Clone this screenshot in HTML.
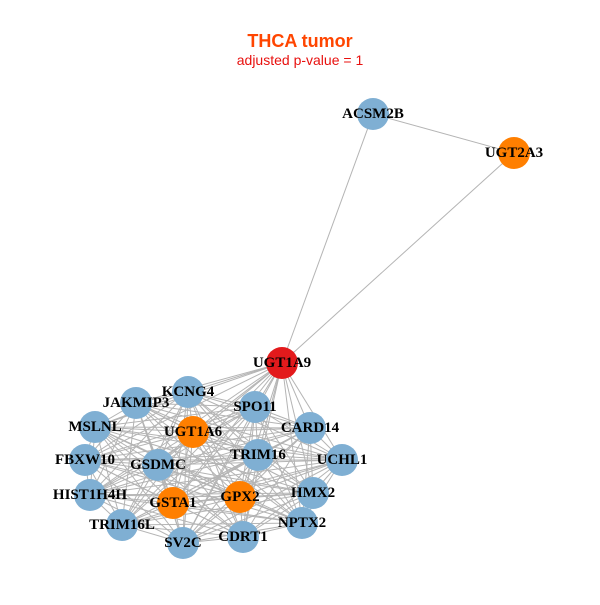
<!DOCTYPE html>
<html><head><meta charset="utf-8"><style>
body{margin:0;background:#fff;width:600px;height:600px;overflow:hidden}
svg text.l{font-family:"Liberation Serif",serif;font-weight:bold;font-size:15px;text-anchor:middle;dominant-baseline:central;fill:#000}
</style></head><body>
<svg id="s" width="600" height="600" xmlns="http://www.w3.org/2000/svg">
<text x="300" y="47" text-anchor="middle" font-family="Liberation Sans,sans-serif" font-weight="bold" font-size="18" fill="#FF4500">THCA tumor</text>
<text x="300" y="65" text-anchor="middle" font-family="Liberation Sans,sans-serif" font-size="14" fill="#E8110F">adjusted p-value = 1</text>
<g id="e" stroke="#b4b4b4" stroke-width="1"></g>
<g id="n"></g>
<g id="t"></g>
</svg>
<script>
var N=[["UGT1A9",282,363,"#E31A1C"],["ACSM2B",373,114,"#7FAFD3"],["UGT2A3",514,153,"#FF7F00"],
["KCNG4",188,392,"#7FAFD3"],["JAKMIP3",136,403,"#7FAFD3"],["SPO11",255,407,"#7FAFD3"],["MSLNL",95,427,"#7FAFD3"],
["UGT1A6",193,432,"#FF7F00"],["CARD14",310,428,"#7FAFD3"],["TRIM16",258,455,"#7FAFD3"],["UCHL1",342,460,"#7FAFD3"],
["FBXW10",85,460,"#7FAFD3"],["GSDMC",158,465,"#7FAFD3"],["HIST1H4H",90,495,"#7FAFD3"],["GSTA1",173,503,"#FF7F00"],
["GPX2",240,497,"#FF7F00"],["HMX2",313,493,"#7FAFD3"],["TRIM16L",122,525,"#7FAFD3"],["NPTX2",302,523,"#7FAFD3"],
["SV2C",183,543,"#7FAFD3"],["CDRT1",243,537,"#7FAFD3"]];
var ns="http://www.w3.org/2000/svg",e=document.getElementById("e"),g=document.getElementById("n"),t=document.getElementById("t");
function L(a,b){var l=document.createElementNS(ns,"line");l.setAttribute("x1",a[1]);l.setAttribute("y1",a[2]);l.setAttribute("x2",b[1]);l.setAttribute("y2",b[2]);e.appendChild(l);}
L(N[0],N[1]);L(N[0],N[2]);L(N[1],N[2]);
for(var i=3;i<N.length;i++){L(N[0],N[i]);for(var j=i+1;j<N.length;j++)L(N[i],N[j]);}
N.forEach(function(d){var c=document.createElementNS(ns,"circle");c.setAttribute("cx",d[1]);c.setAttribute("cy",d[2]);c.setAttribute("r",16);c.setAttribute("fill",d[3]);g.appendChild(c);
var x=document.createElementNS(ns,"text");x.setAttribute("class","l");x.setAttribute("x",d[1]);x.setAttribute("y",d[2]);x.textContent=d[0];t.appendChild(x);});
</script>
</body></html>
